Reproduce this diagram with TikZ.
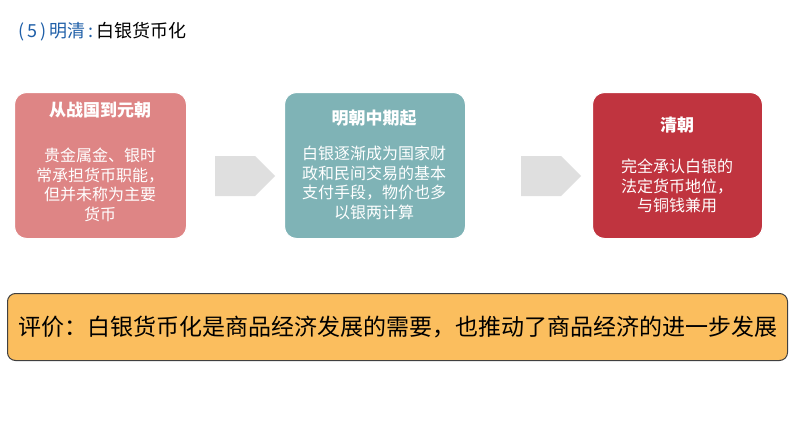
\documentclass[tikz,border=0pt]{standalone}
\usepackage{fontspec}
\setmainfont{Noto Sans CJK SC}
\usetikzlibrary{shapes.arrows}
\definecolor{bA}{HTML}{DE8585}
\definecolor{bB}{HTML}{7FB3B6}
\definecolor{bC}{HTML}{C0343F}
\definecolor{ev}{HTML}{FBBE5E}
\definecolor{tb}{HTML}{1F5FA8}
\tikzset{
  card/.style={rounded corners=12pt, draw=white, line width=1pt, minimum width=172pt, minimum height=146pt, text=white, anchor=north west},
  ttl/.style={text=white, font=\fontsize{17}{20}\selectfont\bfseries},
  bdy/.style={text=white, font=\fontsize{16}{19.5}\selectfont, align=center},
  garrow/.style={single arrow, fill=gray!25, draw=none, minimum height=60pt, minimum width=40pt, single arrow head extend=0pt, inner sep=0pt}
}
\begin{document}
\begin{tikzpicture}[x=1pt,y=-1pt]
\useasboundingbox (0,0) rectangle (794,447);
\node[anchor=west, inner sep=0, font=\fontsize{18}{21}\selectfont] (title) at (18,32) {\textcolor{tb}{(\,5\,)\,明清\,:\,}白银货币化};
\node[card, fill=bA] (b1) at (14,92) {};
\node[card, fill=bB, minimum width=181pt] (b2) at (284,92) {};
\node[card, fill=bC, minimum width=170pt] (b3) at (592,92) {};
\node[ttl] (t1) at (100,110) {从战国到元朝};
\node[bdy] (d1) at (100,185) {贵金属金、银时\\常承担货币职能，\\但并未称为主要\\货币};
\node[ttl] (t2) at (374,118) {明朝中期起};
\node[bdy] (d2) at (374,183) {白银逐渐成为国家财\\政和民间交易的基本\\支付手段，物价也多\\以银两计算};
\node[ttl] (t3) at (677,125) {清朝};
\node[bdy] (d3) at (677,186) {完全承认白银的\\法定货币地位，\\与铜钱兼用};
\node[garrow] (a1) at (235,176) {};
\node[garrow] (a2) at (541,176) {};
\node[rounded corners=8pt, draw=black!75, line width=1pt, fill=ev, minimum width=780pt, minimum height=67pt, anchor=north west, font=\fontsize{23}{26}\selectfont] (eval) at (7,293) {评价：白银货币化是商品经济发展的需要，也推动了商品经济的进一步发展};
\end{tikzpicture}
\end{document}
